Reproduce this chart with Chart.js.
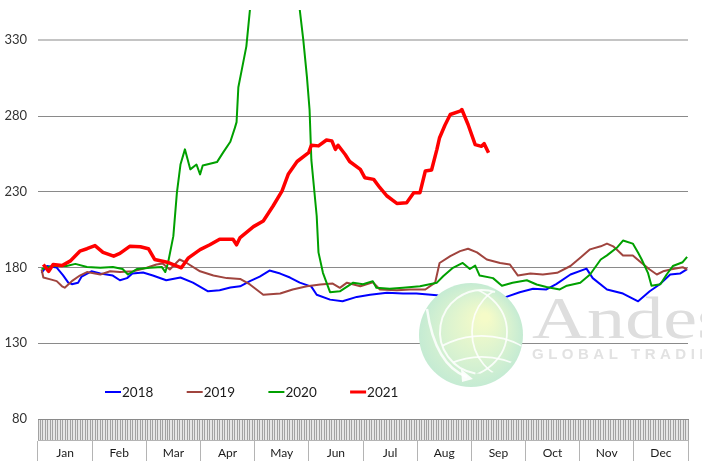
<!DOCTYPE html>
<html>
<head>
<meta charset="utf-8">
<script src="https://cdn.jsdelivr.net/npm/chart.js@4.4.0/dist/chart.umd.min.js"></script>
<style>
  body { margin: 0; background: #fff; }
  #wrap { width: 702px; height: 461px; }
</style>
</head>
<body>
<div id="wrap"><canvas id="chart"></canvas></div>
<script>
// month labels and y ticks
const months = ['Jan', 'Feb', 'Mar', 'Apr', 'May', 'Jun', 'Jul', 'Aug', 'Sep', 'Oct', 'Nov', 'Dec'];
const yTicks = [80, 130, 180, 230, 280, 330];
const tradingDays = 261; // one small tick per trading day on the date band

// day-of-year positions and prices, one pair per year
const days2018 = [2, 5, 10.5, 14, 17, 19, 22.5, 24.5, 30, 35, 42, 46, 50, 53, 59, 64.5, 72, 80, 87, 95.5,
  102, 108, 113.5, 119, 124.5, 130, 136, 141.5, 147, 153.5, 156.5, 164, 171, 179, 186.5, 196, 205, 212.5, 224, 227.5,
  237, 248, 263, 270.5, 278, 285.5, 291, 299, 308, 311.5, 319.5, 328.5, 337, 343.5, 349, 355, 360.5, 364.5];
const price2018 = [176.5, 181, 180, 175, 170, 169, 170, 174, 177.5, 176, 174.7, 171.6, 173, 176, 176.7, 174.7, 171.6, 173.4, 170, 164.3,
  165, 166.8, 167.6, 171, 174, 178, 176, 173.4, 170, 167.4, 162, 158.8, 157.7, 160.6, 162, 163.3, 162.8, 162.8, 161.7, 160,
  161, 161, 160.6, 163.7, 166, 165.5, 169, 175.4, 179.3, 173, 165.5, 162.8, 157.7, 164.3, 168.8, 175.4, 176, 179];

const days2019 = [2, 3, 7.5, 10.5, 13.5, 15, 19, 23.5, 27.5, 35, 40.5, 46, 53.5, 61, 66.5, 70, 74, 79.5, 83.5, 91,
  98.5, 106, 113.5, 119, 126.5, 136, 143, 151, 158.5, 165.5, 169.5, 173.5, 181, 188, 192, 201.5, 209, 217.5, 223, 225.5,
  231.5, 237, 241.5, 246.5, 252, 259.5, 265, 269.5, 276.5, 283.5, 291.5, 299, 304.5, 310, 316, 319.5, 323, 328.5, 334, 339,
  343.5, 347.5, 351, 356.5, 362, 364.5];
const price2019 = [178.7, 173.4, 172, 171, 167.6, 166.7, 171, 174.7, 177, 175.4, 177.5, 177, 177.5, 179.8, 182, 182.6, 178.7, 185.3, 183, 177.5,
  174.7, 173, 172.5, 168.8, 162, 162.8, 165.5, 167.6, 168.8, 169.4, 166.6, 170, 167.6, 170.3, 165.5, 165, 165.5, 165.5, 170, 183,
  187.5, 190.8, 192.4, 190, 185.3, 183, 182, 174.7, 176, 175.4, 176.5, 181, 186.4, 192, 194, 195.8, 194, 188, 188, 183,
  178.7, 175.4, 177.5, 179, 180.2, 178.7];

const days2020 = [2, 8.5, 16, 21, 27.5, 35, 42, 47.5, 50.5, 55.5, 63, 69.5, 71.5, 73, 76, 78, 80, 82.5, 85.5, 89,
  91, 92.5, 100.5, 104, 108, 110.5, 111.5, 112.5, 114.5, 117, 119, 126, 140, 147, 149, 151, 152.5, 153.5, 156.5, 157.5,
  160, 164, 169.5, 177, 182.5, 188, 190, 197.5, 205, 214.5, 224, 227.5, 233, 238.5, 242.5, 245.5, 248, 255.5, 260.5, 266.5,
  274.5, 280, 285.5, 293, 297, 304.5, 310, 316, 319.5, 325, 328.5, 334, 337, 339, 342.5, 344.5, 349.5, 353, 356.5, 362,
  364.5];
const price2020 = [179, 181, 181, 182.4, 180.4, 179.8, 180.4, 179, 175.4, 179, 179.8, 180.4, 177, 183, 200.7, 229.4, 248, 258, 244.8, 248,
  241.5, 247.4, 249.6, 256, 263, 272, 276, 299, 311, 326, 350, 380, 380, 350, 330, 306, 284, 251, 214, 190,
  176.5, 163.7, 164.3, 170, 169, 171, 166.6, 166, 166.6, 167.6, 170, 174.2, 179.8, 183, 179, 181.3, 174.7, 173, 168, 170,
  171.6, 168.8, 167.2, 165.5, 168, 170, 175.4, 185.3, 188, 193, 197.8, 195.8, 189.7, 185.3, 176.5, 168, 169, 175.4, 181, 183.5,
  187];

const days2021 = [3, 6, 8.5, 13.5, 18, 23.5, 27.5, 32, 36.5, 42.5, 46, 51.5, 57.5, 62, 65.5, 72.5, 80.5, 84.5, 91, 96.5,
  102, 109.5, 111.5, 113.5, 121, 126.5, 132, 137, 140.5, 145.5, 152, 153.5, 157.5, 162, 165, 167, 168.5, 172.5, 175, 181,
  183.5, 188.5, 192, 196, 201.5, 207, 211, 214.5, 217.5, 221, 224, 225.5, 228.5, 231.5, 237, 238, 241.5, 245.5, 249, 250.5,
  253];
const price2021 = [182, 177.5, 182, 181.3, 184.2, 190.8, 192.4, 194.5, 190, 187.5, 189.3, 194, 193.7, 192.4, 185.3, 183.5, 179.8, 186.4, 191.8, 195,
  198.7, 198.7, 195, 199.8, 207, 210.7, 220.6, 230.5, 241.5, 250, 255.8, 260.7, 260.3, 264.2, 263.6, 258, 260.7, 254.6, 250, 244.8,
  239.3, 238.2, 232.7, 227.2, 222.3, 222.8, 229.4, 229.4, 243.7, 244.4, 258, 265.7, 273.9, 281, 283.2, 284.3, 274.4, 261.1, 260, 261.8,
  255.8];

const FONT = 'Lato, "Liberation Sans", sans-serif';

function points(days, prices) {
  return days.map((d, i) => ({ x: d, y: prices[i] }));
}

function series(label, days, prices, color, width, order) {
  return {
    label: label,
    data: points(days, prices),
    borderColor: color,
    backgroundColor: color,
    borderWidth: width,
    pointRadius: 0,
    tension: 0,
    borderJoinStyle: 'round',
    order: order
  };
}

const datasets = [
  series('2018', days2018, price2018, '#0000ff', 2, 3),
  series('2019', days2019, price2019, '#a0443e', 2, 2),
  series('2020', days2020, price2020, '#00a000', 2, 1),
  series('2021', days2021, price2021, '#ff0000', 3.5, 0)
];

function drawGlobe(ctx, cx, cy, r) {
  ctx.save();
  const g = ctx.createRadialGradient(cx + 14, cy - 18, 4, cx, cy, r);
  g.addColorStop(0, '#f5fbc8');
  g.addColorStop(0.55, '#dbf3d0');
  g.addColorStop(1, '#c5ebd3');
  ctx.fillStyle = g;
  ctx.beginPath();
  ctx.arc(cx, cy, r, 0, Math.PI * 2);
  ctx.fill();

  const sx = cx + 11, sy = cy - 3, sr = 42;
  ctx.strokeStyle = 'rgba(255,255,255,0.85)';
  ctx.lineWidth = 2;
  ctx.beginPath();
  ctx.arc(sx, sy, sr, Math.PI * 0.55, Math.PI * 1.6);
  ctx.stroke();

  ctx.save();
  ctx.beginPath();
  ctx.arc(sx, sy, sr, 0, Math.PI * 2);
  ctx.clip();
  ctx.lineWidth = 1.8;
  ctx.beginPath(); ctx.ellipse(sx, sy + 60, 70, 56, 0, Math.PI * 1.1, Math.PI * 1.9); ctx.stroke();
  ctx.beginPath(); ctx.ellipse(sx, sy + 85, 70, 60, 0, Math.PI * 1.1, Math.PI * 1.9); ctx.stroke();
  ctx.beginPath(); ctx.ellipse(sx - 5, sy + 110, 70, 58, 0, Math.PI * 1.1, Math.PI * 1.9); ctx.stroke();
  ctx.beginPath(); ctx.ellipse(sx + 30, sy, 40, 46, 0, Math.PI * 0.5, Math.PI * 1.5); ctx.stroke();
  ctx.beginPath(); ctx.ellipse(sx - 25, sy, 50, 46, 0, Math.PI * 1.5, Math.PI * 2.5); ctx.stroke();
  ctx.restore();

  // swoosh arrow
  ctx.lineWidth = 2.5;
  ctx.beginPath();
  ctx.moveTo(cx - 44, cy - 26);
  ctx.quadraticCurveTo(cx - 36, cy + 30, cx - 4, cy + 42);
  ctx.stroke();
  ctx.fillStyle = 'rgba(255,255,255,0.9)';
  ctx.beginPath();
  ctx.moveTo(cx + 2, cy + 44);
  ctx.lineTo(cx - 10, cy + 34);
  ctx.lineTo(cx - 9, cy + 47);
  ctx.closePath();
  ctx.fill();
  ctx.restore();
}

const extras = {
  id: 'extras',
  beforeDraw(chart) {
    const { ctx, chartArea, scales } = chart;
    ctx.save();
    ctx.fillStyle = '#e6e6e6';
    ctx.fillRect(chartArea.left, scales.x.top, chartArea.right - chartArea.left, scales.x.bottom - scales.x.top);
    ctx.restore();
  },
  beforeDatasetsDraw(chart) {
    const { ctx, chartArea } = chart;
    ctx.save();
    ctx.fillStyle = '#dedede';
    ctx.translate(chartArea.left + 494, chartArea.top + 328);
    ctx.scale(1.27, 1);
    ctx.font = '60px "Liberation Serif", serif';
    ctx.fillText('Andes', 0, 0);
    ctx.restore();
    ctx.save();
    ctx.fillStyle = '#e2e2e2';
    ctx.font = 'bold 15px "Liberation Sans", sans-serif';
    ctx.letterSpacing = '4.5px';
    ctx.fillText('GLOBAL TRADING', chartArea.left + 494, chartArea.top + 349);
    ctx.restore();
  },
  afterDatasetsDraw(chart) {
    const { ctx, chartArea } = chart;
    drawGlobe(ctx, chartArea.left + 433, chartArea.top + 325, 52);
  },
  afterDraw(chart) {
    const { ctx, chartArea } = chart;
    const y = chartArea.bottom - 27;
    ctx.save();
    ctx.font = '13.5px ' + FONT;
    ctx.textBaseline = 'middle';
    chart.data.datasets.forEach((ds, i) => {
      const x = chartArea.left + 67 + i * 81.7;
      ctx.strokeStyle = ds.borderColor;
      ctx.lineWidth = ds.borderWidth > 3 ? 3 : 2;
      ctx.beginPath();
      ctx.moveTo(x, y);
      ctx.lineTo(x + 16, y);
      ctx.stroke();
      ctx.fillStyle = '#1a1a1a';
      ctx.fillText(ds.label, x + 17, y + 1);
    });
    ctx.restore();
  }
};

new Chart(document.getElementById('chart'), {
  type: 'line',
  data: { datasets: datasets },
  plugins: [extras],
  options: {
    responsive: true,
    maintainAspectRatio: false,
    animation: false,
    layout: { padding: { top: 10, right: 14, left: 0, bottom: 0 } },
    plugins: { legend: { display: false }, tooltip: { enabled: false } },
    scales: {
      x: {
        type: 'linear',
        position: 'bottom',
        weight: 1,
        min: 0,
        max: 365,
        afterBuildTicks: axis => {
          const t = [];
          for (let i = 0; i <= tradingDays; i++) t.push({ value: i * 365 / tradingDays });
          axis.ticks = t;
        },
        afterFit: axis => { axis.height = 21; },
        ticks: { display: false, autoSkip: false },
        grid: { drawOnChartArea: false, tickLength: 21, color: '#a2a2a2', lineWidth: 1 },
        border: { color: '#8a8a8a', width: 1 }
      },
      x2: {
        type: 'category',
        position: 'bottom',
        weight: 2,
        labels: months,
        offset: true,
        afterFit: axis => { axis.height = 21; },
        ticks: { autoSkip: false, maxRotation: 0, padding: -15, color: '#1a1a1a', font: { family: FONT, size: 12 } },
        grid: { offset: true, drawOnChartArea: false, tickLength: 21, color: '#b4b4b4' },
        border: { color: '#b4b4b4' }
      },
      y: {
        type: 'linear',
        min: 80,
        max: 350,
        afterBuildTicks: axis => { axis.ticks = yTicks.map(v => ({ value: v })); },
        afterFit: axis => {
          axis.width = 38;
          axis.paddingTop = 0;
          axis.paddingBottom = 0;
        },
        ticks: { padding: 11, color: '#333', font: { family: FONT, size: 13 } },
        grid: {
          drawTicks: false,
          color: ctx => ctx.tick && ctx.tick.value === 330 ? '#c4c4c4' : '#8a8a8a',
          lineWidth: ctx => ctx.tick && ctx.tick.value === 330 ? 2 : 1
        },
        border: { display: false }
      }
    }
  }
});
</script>
</body>
</html>
